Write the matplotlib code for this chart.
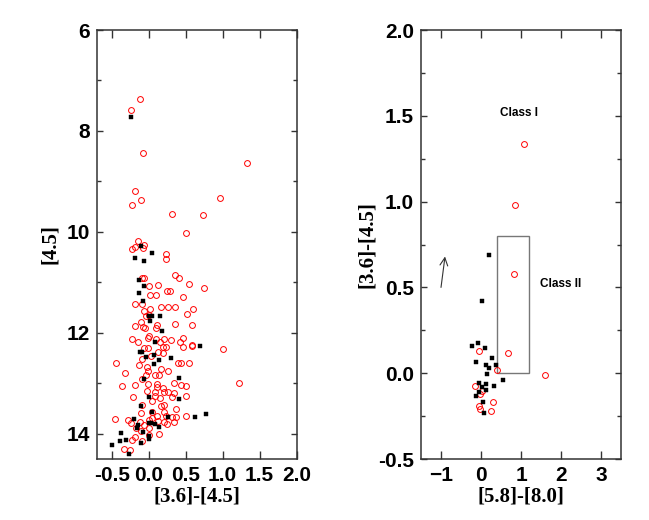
import matplotlib
matplotlib.use("Agg")
import matplotlib.pyplot as plt
from matplotlib.patches import Rectangle
from matplotlib.ticker import MultipleLocator

# ---- left panel: [3.6]-[4.5] vs [4.5] ----
cmd_red = [
    (-0.125, 7.36), (-0.24, 7.59), (-0.08, 8.43), (1.33, 8.63), (-0.19, 9.19),
    (-0.11, 9.36), (-0.22, 9.47), (0.32, 9.65), (0.73, 9.67), (0.97, 9.33),
    (0.50, 10.03), (-0.14, 10.18), (-0.07, 10.25), (-0.18, 10.30), (-0.22, 10.34),
    (-0.08, 10.32), (0.23, 10.43), (0.23, 10.53), (0.35, 10.85), (0.41, 10.92),
    (-0.09, 10.91), (-0.06, 10.92), (0.55, 11.04), (0.01, 11.07), (0.12, 11.06),
    (0.75, 11.11), (0.25, 11.17), (0.29, 11.17), (0.02, 11.25), (0.10, 11.25),
    (0.47, 11.30), (-0.18, 11.43), (-0.09, 11.43), (0.02, 11.52), (0.17, 11.49),
    (0.26, 11.49), (0.36, 11.48), (0.60, 11.53), (-0.07, 11.56), (0.52, 11.63),
    (-0.04, 11.66), (0.00, 11.65), (-0.11, 11.79), (0.11, 11.84), (0.36, 11.82),
    (0.59, 11.84), (-0.19, 11.87), (-0.08, 11.88), (-0.05, 11.91), (0.10, 11.91),
    (-0.22, 12.12), (-0.15, 12.19), (-0.01, 12.11), (0.01, 12.07), (0.10, 12.13),
    (0.20, 12.13), (0.30, 12.15), (0.42, 12.18), (0.46, 12.11), (0.58, 12.24),
    (0.15, 12.19), (0.19, 12.28), (0.23, 12.29), (-0.06, 12.30), (-0.01, 12.30),
    (0.47, 12.28), (0.58, 12.27), (1.00, 12.32), (0.12, 12.38), (0.19, 12.40),
    (0.03, 12.45), (-0.09, 12.51), (-0.44, 12.60), (-0.13, 12.63), (-0.02, 12.68),
    (0.17, 12.72), (0.26, 12.75), (0.39, 12.60), (0.43, 12.59), (0.54, 12.59),
    (-0.32, 12.80), (-0.04, 12.83), (-0.01, 12.76), (0.08, 12.84), (0.14, 12.84),
    (-0.09, 12.91), (-0.01, 13.01), (-0.18, 13.03), (-0.36, 13.05), (0.11, 13.01),
    (0.11, 13.07), (0.34, 13.00), (0.43, 13.03), (0.50, 13.05), (1.22, 13.00),
    (0.19, 13.09), (-0.03, 13.16), (0.09, 13.17), (0.20, 13.17), (0.26, 13.17),
    (0.34, 13.20), (-0.21, 13.27), (0.09, 13.25), (0.15, 13.30), (0.31, 13.27),
    (0.50, 13.25), (0.05, 13.36), (-0.09, 13.43), (0.17, 13.45), (0.20, 13.43),
    (0.37, 13.50), (-0.10, 13.58), (0.04, 13.57), (0.11, 13.64), (0.20, 13.57),
    (0.24, 13.64), (0.32, 13.66), (0.37, 13.66), (0.51, 13.65), (-0.45, 13.71),
    (-0.28, 13.73), (-0.24, 13.78), (-0.12, 13.76), (-0.06, 13.83), (0.00, 13.73),
    (0.05, 13.68), (0.13, 13.74), (0.20, 13.76), (0.25, 13.81), (0.34, 13.77),
    (-0.17, 13.89), (-0.11, 13.94), (0.00, 13.89), (0.14, 14.01), (-0.22, 14.12),
    (-0.18, 14.07), (-0.09, 14.15), (0.01, 14.02), (-0.33, 14.30), (-0.26, 14.32),
]
cmd_black = [
    (-0.24, 7.73), (-0.10, 10.28), (0.04, 10.41), (-0.18, 10.52), (-0.07, 10.57),
    (-0.13, 10.96), (-0.06, 11.07), (-0.13, 11.21), (-0.08, 11.37), (0.00, 11.67),
    (0.05, 11.66), (0.15, 11.67), (0.02, 11.76), (0.18, 11.97), (0.09, 12.19),
    (-0.12, 12.38), (-0.09, 12.38), (-0.04, 12.48), (0.07, 12.43), (0.14, 12.53),
    (0.07, 12.62), (0.30, 12.50), (0.69, 12.27), (0.41, 12.89), (-0.07, 12.91),
    (0.00, 13.28), (0.41, 13.31), (-0.11, 13.44), (0.04, 13.56), (-0.20, 13.70),
    (-0.15, 13.82), (-0.16, 13.89), (0.00, 13.79), (0.03, 13.79), (0.08, 13.81),
    (0.14, 13.86), (0.26, 13.66), (0.63, 13.67), (0.78, 13.61), (-0.08, 13.97),
    (0.00, 14.05), (0.01, 14.11), (-0.11, 14.18), (-0.37, 13.99), (-0.39, 14.15),
    (-0.31, 14.13), (-0.50, 14.23), (-0.27, 14.41),
]

# ---- right panel: [5.8]-[8.0] vs [3.6]-[4.5] ----
ccd_red = [
    (1.07, 1.334), (0.84, 0.98), (0.83, 0.576), (-0.06, 0.128), (0.675, 0.118),
    (0.40, 0.02), (1.60, -0.01), (-0.15, -0.072), (0.025, -0.106), (-0.02, -0.12),
    (0.30, -0.17), (-0.04, -0.19), (-0.025, -0.21), (0.24, -0.22),
]
ccd_black = [
    (0.20, 0.688), (0.02, 0.419), (-0.22, 0.157), (-0.075, 0.177), (0.108, 0.149),
    (-0.13, 0.068), (0.28, 0.087), (0.38, 0.049), (0.12, 0.049), (0.21, 0.029),
    (0.15, -0.002), (0.54, -0.042), (-0.06, -0.06), (0.125, -0.062), (0.33, -0.072),
    (0.02, -0.083), (0.12, -0.10), (-0.04, -0.112), (-0.125, -0.131), (0.04, -0.17),
    (0.075, -0.23),
]
class2_box = (0.4, 0.0, 1.2, 0.8)        # x0, y0, x1, y1
redden_vec = ((-1.0, 0.5), (-0.9, 0.68))  # tail, head

tick_font = dict(family=['Liberation Sans Narrow', 'Liberation Sans', 'DejaVu Sans'],
                 weight='bold', size=15)
label_font = dict(family=['Liberation Serif', 'DejaVu Serif'], weight='bold', size=15)


def style_axes(ax):
    ax.tick_params(which='both', direction='in', top=True, right=True, color='#333333')
    ax.tick_params(axis='x', which='major', length=6, width=1, pad=5)
    ax.tick_params(axis='y', which='major', length=4, width=1, pad=5)
    ax.tick_params(axis='y', which='minor', length=3, width=1)
    for s in ax.spines.values():
        s.set_linewidth(1.1)
        s.set_color('#333333')
    for lab in ax.get_xticklabels() + ax.get_yticklabels():
        lab.set_fontproperties(matplotlib.font_manager.FontProperties(**tick_font))


def scatter(ax, pts, **kw):
    xs = [p[0] for p in pts]
    ys = [p[1] for p in pts]
    ax.plot(xs, ys, linestyle='none', **kw)


fig = plt.figure(figsize=(6.49, 5.2), dpi=100)
ax1 = fig.add_axes([0.1495, 0.1173, 0.3074, 0.825])
ax2 = fig.add_axes([0.6487, 0.1173, 0.3082, 0.825])

circ = dict(marker='o', ms=4.2, mfc='none', mec='red', mew=0.7)
sq = dict(marker='s', ms=2.6, mfc='black', mec='black', mew=0.3)

# left
scatter(ax1, cmd_red, **circ)
scatter(ax1, cmd_black, **sq)
ax1.set_xlim(-0.7, 2.0)
ax1.set_ylim(14.5, 6)
ax1.xaxis.set_major_locator(MultipleLocator(0.5))
ax1.xaxis.set_major_formatter(matplotlib.ticker.FormatStrFormatter('%.1f'))
ax1.yaxis.set_major_locator(MultipleLocator(2))
ax1.yaxis.set_minor_locator(MultipleLocator(1))
style_axes(ax1)
ax1.set_xlabel('[3.6]-[4.5]', labelpad=1, **label_font)
ax1.set_ylabel('[4.5]', labelpad=5, **label_font)

# right
scatter(ax2, ccd_red, **circ)
scatter(ax2, ccd_black, **sq)
x0, y0, x1, y1 = class2_box
ax2.add_patch(Rectangle((x0, y0), x1 - x0, y1 - y0, fill=False, ec='#777777', lw=1.0))
ax2.annotate('', xy=redden_vec[1], xytext=redden_vec[0],
             arrowprops=dict(arrowstyle='->', color='#333333', lw=0.8,
                             mutation_scale=14, shrinkA=0, shrinkB=0))
ax2.text(0.95, 1.514, 'Class I', ha='center', va='center', fontsize=8.5,
         fontweight='bold', family=['Liberation Sans', 'DejaVu Sans'])
ax2.text(1.99, 0.52, 'Class II', ha='center', va='center', fontsize=8.5,
         fontweight='bold', family=['Liberation Sans', 'DejaVu Sans'])
ax2.set_xlim(-1.5, 3.5)
ax2.set_ylim(-0.5, 2.0)
ax2.xaxis.set_major_locator(MultipleLocator(1))
ax2.yaxis.set_major_locator(MultipleLocator(0.5))
ax2.yaxis.set_major_formatter(matplotlib.ticker.FormatStrFormatter('%.1f'))
ax2.yaxis.set_minor_locator(MultipleLocator(0.25))
style_axes(ax2)
ax2.set_xlabel('[5.8]-[8.0]', labelpad=1, **label_font)
ax2.set_ylabel('[3.6]-[4.5]', labelpad=1, **label_font)

fig.savefig('out.png', dpi=100)
